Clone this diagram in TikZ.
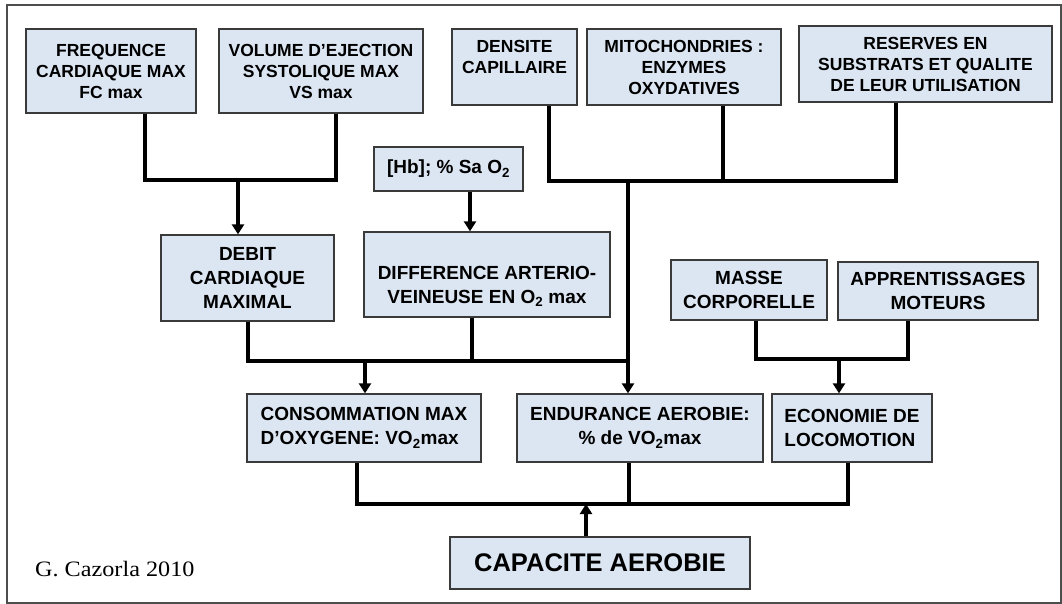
\documentclass[tikz,border=0pt]{standalone}
\usepackage{fontspec}
\setmainfont{Liberation Sans}
\newfontfamily\serifcaz[FakeStretch=1.1]{Liberation Serif}
\usetikzlibrary{arrows.meta}
\definecolor{boxfill}{HTML}{DCE6F2}
\definecolor{boxline}{HTML}{3A3A3A}
\definecolor{framecol}{HTML}{4D4D4D}
\begin{document}
\begin{tikzpicture}[x=1pt,y=-1pt,
  box/.style={draw=boxline, fill=boxfill, line width=1.3pt, inner sep=0pt, align=center,
    font=\bfseries\fontsize{19}{24}\selectfont},
  topbox/.style={box, font=\bfseries\fontsize{17.5}{21}\selectfont},
  conn/.style={line width=3.5pt, line join=miter},
  arr/.style={conn, -{Triangle[length=10pt,width=12pt]}},
]
\useasboundingbox (0,0) rectangle (1062,604);
\fill[white] (0,0) rectangle (1062,604);
\draw[framecol, line width=1.8pt] (7,5) rectangle (1061,603);

% top row
\node[topbox, minimum width=170pt, minimum height=84pt] (freq) at (111,71) {FREQUENCE\\CARDIAQUE MAX\\FC max};
\node[topbox, minimum width=204pt, minimum height=84pt] (vol) at (321,71) {VOLUME D’EJECTION\\SYSTOLIQUE MAX\\VS max};
\node[topbox, minimum width=125pt, minimum height=76pt] (dens) at (514.5,67) {DENSITE\\CAPILLAIRE\\\phantom{O}};
\node[topbox, minimum width=194pt, minimum height=76pt] (mito) at (684,67) {MITOCHONDRIES :\\ENZYMES\\OXYDATIVES};
\node[topbox, minimum width=253pt, minimum height=76pt] (res) at (925.5,64) {RESERVES EN\\SUBSTRATS ET QUALITE\\DE LEUR UTILISATION};

% middle
\node[box, minimum width=149pt, minimum height=44pt] (hb) at (448.5,169) {[Hb]; \% Sa O\textsubscript{2}};
\node[box, minimum width=173pt, minimum height=86pt] (debit) at (247.5,278) {DEBIT\\CARDIAQUE\\MAXIMAL};
\node[box, minimum width=246pt, minimum height=85pt] (diff) at (487,274.5) {\phantom{D}\\DIFFERENCE ARTERIO-\\VEINEUSE EN O\textsubscript{2} max};
\node[box, minimum width=156pt, minimum height=60pt] (masse) at (749,290) {MASSE\\CORPORELLE};
\node[box, minimum width=200pt, minimum height=58pt] (appr) at (938,291) {APPRENTISSAGES\\MOTEURS};

% lower row
\node[box, align=left, minimum width=234pt, minimum height=68pt] (conso) at (364,428) {CONSOMMATION MAX\\D’OXYGENE: VO\textsubscript{2}max};
\node[box, minimum width=246pt, minimum height=68pt] (endu) at (640,428) {ENDURANCE AEROBIE:\\\% de VO\textsubscript{2}max};
\node[box, align=left, minimum width=160pt, minimum height=68pt] (econ) at (852,428) {ECONOMIE DE\\LOCOMOTION};
\node[box, minimum width=300pt, minimum height=52pt, font=\bfseries\fontsize{25.5}{30}\selectfont] (cap) at (600,563) {CAPACITE AEROBIE};

\node[anchor=base west, inner sep=0pt, font=\serifcaz\fontsize{22}{26}\selectfont] (sig) at (35,576) {G. Cazorla 2010};

% junction coordinates
\coordinate (a1) at (145,180); \coordinate (a2) at (336,180); \coordinate (ja) at (238,180);
\coordinate (b1) at (549,181); \coordinate (b2) at (723,181); \coordinate (b3) at (896,181); \coordinate (jb) at (628,181);
\coordinate (hx) at (470,170);
\coordinate (c1) at (248,361); \coordinate (c2) at (472,361); \coordinate (jc) at (365,361);
\coordinate (d1) at (756,359); \coordinate (d2) at (908,359); \coordinate (jd) at (839,359);
\coordinate (e1) at (357,504); \coordinate (e2) at (629,504); \coordinate (e3) at (848,504); \coordinate (je) at (586,504);

% connectors
\draw[conn] (freq.south -| a1) -- (a1) -- (a2) -- (vol.south -| a2);
\draw[arr] (ja) -- (debit.north -| ja);

\draw[conn] (dens.south -| b1) -- (b1) -- (b3) -- (res.south -| b3);
\draw[conn] (mito.south -| b2) -- (b2);
\draw[arr] (jb) -- (endu.north -| jb);

\draw[arr] (hb.south -| hx) -- (diff.north -| hx);

\draw[conn] (debit.south -| c1) -- (c1) -- (jb |- c1);
\draw[conn] (diff.south -| c2) -- (c2);
\draw[arr] (jc) -- (conso.north -| jc);

\draw[conn] (masse.south -| d1) -- (d1) -- (d2) -- (appr.south -| d2);
\draw[arr] (jd) -- (econ.north -| jd);

\draw[conn] (conso.south -| e1) -- (e1) -- (e3) -- (econ.south -| e3);
\draw[conn] (endu.south -| e2) -- (e2);
\draw[arr] (cap.north -| je) -- (je);
\end{tikzpicture}
\end{document}
